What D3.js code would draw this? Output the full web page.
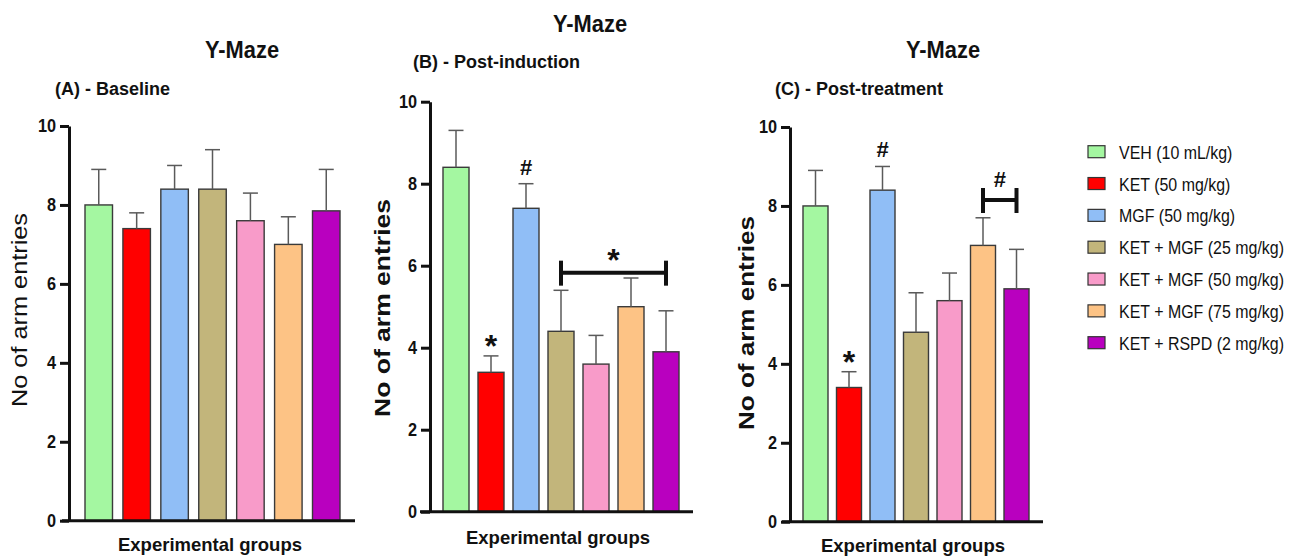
<!DOCTYPE html>
<html><head><meta charset="utf-8">
<script src="https://cdn.jsdelivr.net/npm/d3@7"></script>
<style>
html,body{margin:0;padding:0;background:#fff;}
svg{display:block;font-family:"Liberation Sans",Arial,sans-serif;}
</style></head>
<body><svg id="c" width="1300" height="559"></svg>
<script>
// ---------- data ----------
const groups = ["VEH (10 mL/kg)","KET (50 mg/kg)","MGF (50 mg/kg)","KET + MGF (25 mg/kg)","KET + MGF (50 mg/kg)","KET + MGF (75 mg/kg)","KET + RSPD (2 mg/kg)"];
const colors = ["#a4f7a1","#ff0000","#90bef6","#c2b57b","#f89bc9","#fdc385","#b900bf"];
const baselineMean = [8.0, 7.4, 8.4, 8.4, 7.6, 7.0, 7.85];
const baselineSem  = [0.9, 0.4, 0.6, 1.0, 0.7, 0.7, 1.05];
const inductionMean = [8.4, 3.4, 7.4, 4.4, 3.6, 5.0, 3.9];
const inductionSem  = [0.9, 0.4, 0.6, 1.0, 0.7, 0.7, 1.0];
const treatmentMean = [8.0, 3.4, 8.4, 4.8, 5.6, 7.0, 5.9];
const treatmentSem  = [0.9, 0.4, 0.6, 1.0, 0.7, 0.7, 1.0];
const yTicks = [0, 2, 4, 6, 8, 10];
const inductionMarks = [{g:1, label:"*"}, {g:2, label:"#"}];
const inductionBracket = {from:3, to:6, y:5.83, label:"*"};
const treatmentMarks = [{g:1, label:"*"}, {g:2, label:"#"}];
const treatmentBracket = {from:5, to:6, y:8.15, label:"#"};

// ---------- layout ----------
const panels = [
  {mean:baselineMean, sem:baselineSem, title:"Y-Maze", titleX:242, titleY:58, sub:"(A) - Baseline", subX:55, subY:95,
   axX:69, yTop:126, yBot:520.7, lineX0:62, lineX1:355, barL:85, barR:340, bw:27.5,
   yt:{x:27, y:310, len:194, bold:false}, xt:{x:210, y:551},
   marks:[], bracket:null},
  {mean:inductionMean, sem:inductionSem, title:"Y-Maze", titleX:590, titleY:32, sub:"(B) - Post-induction", subX:413, subY:68,
   axX:430, yTop:101.7, yBot:511.7, lineX0:420, lineX1:693, barL:443, barR:679, bw:26,
   yt:{x:390, y:308, len:218, bold:true}, xt:{x:558, y:544},
   marks:inductionMarks, bracket:inductionBracket},
  {mean:treatmentMean, sem:treatmentSem, title:"Y-Maze", titleX:943, titleY:58, sub:"(C) - Post-treatment", subX:775, subY:95,
   axX:790, yTop:127, yBot:521.7, lineX0:782, lineX1:1043, barL:803, barR:1029, bw:25,
   yt:{x:754, y:323, len:214, bold:true}, xt:{x:913, y:552},
   marks:treatmentMarks, bracket:treatmentBracket}
];

const svg = d3.select("#c");
const ink = "#111";

function squeeze(sel, f) {
  sel.each(function(){
    this.removeAttribute("textLength");
    const w = this.getComputedTextLength();
    this.setAttribute("textLength", w * f);
    this.setAttribute("lengthAdjust", "spacingAndGlyphs");
  });
}

function star(g, x, yc) {
  g.append("text").attr("x", x).attr("y", yc + 18).attr("text-anchor","middle")
   .attr("font-size", 32).attr("font-weight","bold").attr("fill", ink).text("*");
}
function hash(g, x, yc) {
  g.append("text").attr("x", x).attr("y", yc + 8).attr("text-anchor","middle")
   .attr("font-size", 22).attr("font-weight","bold").attr("fill", ink).text("#");
}

panels.forEach(p => {
  const g = svg.append("g");
  const n = groups.length;
  const step = (p.barR - p.barL - p.bw) / (n - 1);
  const pin = 1 - p.bw / step;
  const pad = (step - p.bw) / 2;
  const x = d3.scaleBand().domain(groups).range([p.barL - pad, p.barR + pad])
              .paddingInner(pin).paddingOuter(pin / 2);
  const y = d3.scaleLinear().domain([0, 10]).range([p.yBot, p.yTop]);

  // titles
  squeeze(g.append("text").attr("x", p.titleX).attr("y", p.titleY).attr("text-anchor","middle")
   .attr("font-size", 23).attr("font-weight","bold").attr("fill", ink).text(p.title), 0.95);
  g.append("text").attr("x", p.subX).attr("y", p.subY)
   .attr("font-size", 18).attr("font-weight","bold").attr("fill", ink).text(p.sub);

  // bars
  g.selectAll("rect.bar").data(groups).join("rect").attr("class","bar")
   .attr("x", d => x(d)).attr("width", x.bandwidth())
   .attr("y", (d,i) => y(p.mean[i])).attr("height", (d,i) => y(0) - y(p.mean[i]))
   .attr("fill", (d,i) => colors[i]).attr("stroke", "#3a3a3a").attr("stroke-width", 1.4);

  // error bars (upper only)
  const eg = g.append("g").attr("stroke", "#5a5a5a").attr("stroke-width", 1.5).attr("fill","none");
  groups.forEach((d,i) => {
    const cx = x(d) + x.bandwidth()/2;
    eg.append("line").attr("x1", cx).attr("x2", cx).attr("y1", y(p.mean[i])).attr("y2", y(p.mean[i] + p.sem[i]));
    eg.append("line").attr("x1", cx - 7.5).attr("x2", cx + 7.5).attr("y1", y(p.mean[i] + p.sem[i])).attr("y2", y(p.mean[i] + p.sem[i]));
  });

  // y axis
  const ya = d3.axisLeft(y).tickValues(yTicks).tickSize(9).tickSizeOuter(0).tickPadding(4).tickFormat(d3.format("d"));
  const yg = g.append("g").attr("transform", `translate(${p.axX},0)`).call(ya);
  yg.select(".domain").attr("stroke", ink).attr("stroke-width", 3);
  yg.selectAll(".tick line").attr("stroke", ink).attr("stroke-width", 3);
  const tt = yg.selectAll(".tick text").attr("font-size", 18.5).attr("font-weight","bold").attr("fill", ink)
    .attr("font-family", '"Liberation Sans",Arial,sans-serif');
  squeeze(tt, 0.88);

  // x axis line
  g.append("line").attr("x1", p.lineX0).attr("x2", p.lineX1).attr("y1", y(0)).attr("y2", y(0))
   .attr("stroke", ink).attr("stroke-width", 3);

  // axis titles
  g.append("text").attr("transform", `translate(${p.yt.x},${p.yt.y}) rotate(-90)`)
   .attr("text-anchor","middle").attr("font-size", 22).attr("font-weight", p.yt.bold ? "bold" : "normal")
   .attr("fill", ink).attr("textLength", p.yt.len).attr("lengthAdjust","spacingAndGlyphs").text("No of arm entries");
  g.append("text").attr("x", p.xt.x).attr("y", p.xt.y).attr("text-anchor","middle")
   .attr("font-size", 18.5).attr("font-weight","bold").attr("fill", ink).text("Experimental groups");

  // significance marks
  p.marks.forEach(m => {
    const cx = x(groups[m.g]) + x.bandwidth()/2;
    const top = y(p.mean[m.g] + p.sem[m.g]);
    if (m.label === "*") star(g, cx, top - 17); else hash(g, cx, top - 17);
  });
  if (p.bracket) {
    const b = p.bracket;
    const xa = x(groups[b.from]) + x.bandwidth()/2;
    const xb = x(groups[b.to]) + x.bandwidth()/2;
    const yb = y(b.y);
    const bg = g.append("g").attr("stroke", ink).attr("stroke-width", 4).attr("fill","none");
    bg.append("line").attr("x1", xa).attr("x2", xb).attr("y1", yb).attr("y2", yb);
    bg.append("line").attr("x1", xa).attr("x2", xa).attr("y1", yb - 12).attr("y2", yb + 13);
    bg.append("line").attr("x1", xb).attr("x2", xb).attr("y1", yb - 12).attr("y2", yb + 13);
    const mx = (xa + xb) / 2;
    if (b.label === "*") star(g, mx, yb - 20); else hash(g, mx, yb - 21);
  }
});

// legend
const legendY = d3.scalePoint().domain(groups).range([151.7, 342.7]);
const lg = svg.append("g");
const lt = svg.append("g").attr("transform", "translate(1119,0) scale(0.84,1)");
groups.forEach((d,i) => {
  const cy = legendY(d);
  lg.append("rect").attr("x", 1088).attr("y", cy - 6).attr("width", 17).attr("height", 12)
    .attr("fill", colors[i]).attr("stroke", "#333").attr("stroke-width", 1.2);
  lt.append("text").attr("x", 0).attr("y", cy + 7).attr("font-size", 19).attr("fill", ink).text(d);
});
</script>
</body></html>
